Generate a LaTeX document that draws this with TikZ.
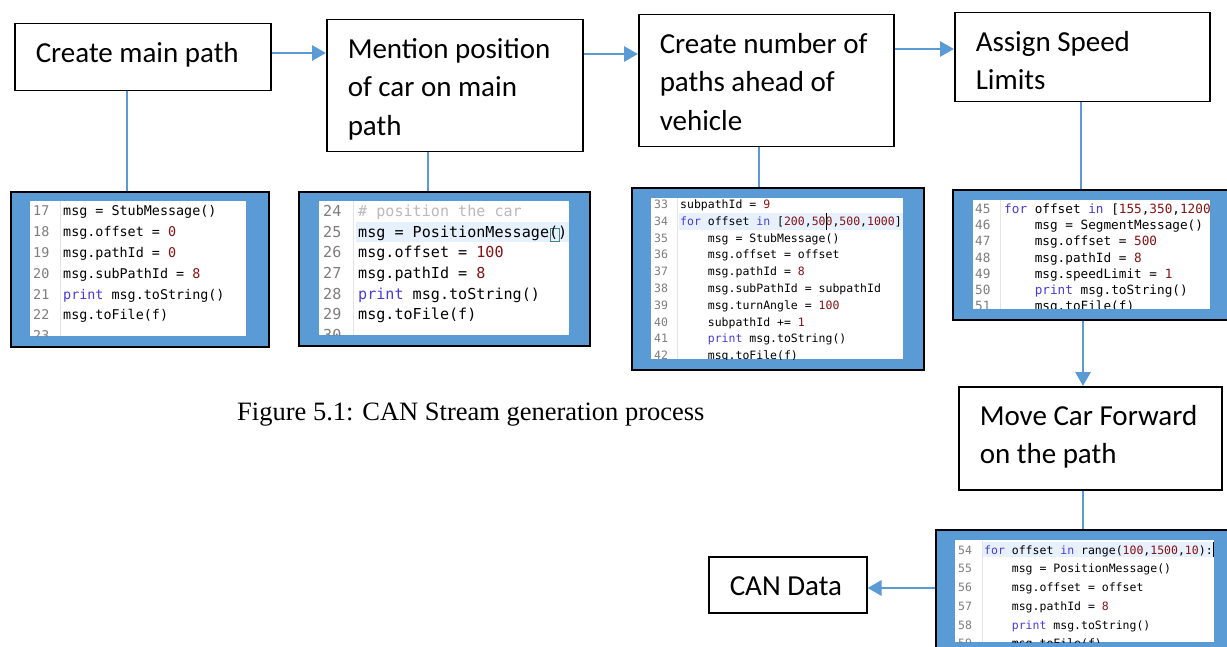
\documentclass[tikz,border=0pt]{standalone}
\usepackage{fontspec}
\setmainfont{Liberation Serif}
\setmonofont{DejaVu Sans Mono}
\newfontfamily\boxfont{Carlito}
\usetikzlibrary{arrows.meta}

\definecolor{flowblue}{RGB}{91,155,213}
\definecolor{numred}{RGB}{135,18,18}
\definecolor{kwblue}{RGB}{72,58,222}
\definecolor{lngrey}{RGB}{125,125,125}
\definecolor{cmgrey}{RGB}{185,185,185}
\definecolor{curline}{RGB}{231,241,253}
\definecolor{gutter}{RGB}{228,228,228}
\definecolor{matchbox}{RGB}{70,130,130}

% code listing helpers
\newcommand\lno[2]{\makebox[#1][l]{\textcolor{lngrey}{#2}}}
\newcommand\kw[1]{\textcolor{kwblue}{#1}}
\newcommand\nm[1]{\textcolor{numred}{#1}}
\newcommand\ind{\hphantom{xxxx}}
\newcommand\monospaces{\spaceskip=0.6021em\relax}
% text of a flow box: fixed size, first baseline 38.5pt below the top
\newcommand\boxtext[3]{\parbox[c][#2][t]{#1}{\rule{0pt}{38.5pt}#3}}

\tikzset{
  tbox/.style={draw=black, line width=1.5pt, fill=white, inner xsep=21pt,
    inner ysep=0pt, anchor=north west,
    font=\boxfont\fontsize{29}{38.5}\selectfont},
  cbox/.style={draw=black, line width=2.2pt, fill=flowblue,
    anchor=north west, inner sep=0pt},
  listing/.style 2 args={anchor=base west, inner sep=0pt, text width=300pt,
    align=left, font=\fontsize{#1}{#2}\selectfont\ttfamily},
  flow/.style={draw=flowblue, line width=2.9pt,
    -{Triangle[length=14pt,width=15pt]}},
  link/.style={draw=flowblue, line width=1.3pt},
  sep/.style={draw=gutter, line width=0.8pt},
}

\begin{document}
\begin{tikzpicture}[x=1pt, y=-1pt]
\clip (0,0) rectangle (1227,647);
\fill[white] (0,0) rectangle (1227,647);

% ---- flow boxes ----
\node[tbox] (b1) at (14,23) {\boxtext{214pt}{67pt}{\mbox{Create main path}}};
\node[tbox] (b2) at (326,19) {\boxtext{214pt}{132pt}{\mbox{Mention position}\\\mbox{of car on main}\\\mbox{path}}};
\node[tbox] (b3) at (638,14) {\boxtext{213pt}{132pt}{\mbox{Create number of}\\\mbox{paths ahead of}\\\mbox{vehicle}}};
\node[tbox] (b4) at (954,12) {\boxtext{213pt}{89pt}{\mbox{Assign Speed}\\\mbox{Limits}}};
\node[tbox] (b5) at (958,386) {\boxtext{221pt}{103pt}{\mbox{Move Car Forward}\\\mbox{on the path}}};
\node[tbox] (b6) at (708,556) {\boxtext{116pt}{56pt}{\mbox{CAN Data}}};

% ---- code boxes ----
\node[cbox, minimum width=258pt, minimum height=155pt] (c1) at (10,191) {};
\node[cbox, minimum width=291pt, minimum height=154pt] (c2) at (298,191) {};
\node[cbox, minimum width=292pt, minimum height=182pt] (c3) at (631,187) {};
\node[cbox, minimum width=290pt, minimum height=130pt] (c4) at (952,189) {};
\node[cbox, minimum width=300pt, minimum height=130pt] (c5) at (935,529) {};

% listing 1
\begin{scope}
  \clip (30,201) rectangle (246,336);
  \fill[white] (30,201) rectangle (246,336);
  \draw[sep] (60,201) -- (60,336);
  \node[listing={13.4}{20.8}] (l1) at (33,216) {\monospaces
    \lno{30pt}{17}msg = StubMessage()\\
    \lno{30pt}{18}msg.offset = \nm{0}\\
    \lno{30pt}{19}msg.pathId = \nm{0}\\
    \lno{30pt}{20}msg.subPathId = \nm{8}\\
    \lno{30pt}{21}\kw{print} msg.toString()\\
    \lno{30pt}{22}msg.toFile(f)\\
    \lno{30pt}{23}};
\end{scope}

% listing 2
\begin{scope}
  \clip (319,201) rectangle (569,335);
  \fill[white] (319,201) rectangle (569,335);
  \fill[curline] (356,222) rectangle (569,242);
  \draw[sep] (353,201) -- (353,335);
  \draw[matchbox, line width=0.8pt] (550.5,228) rectangle (559,241);
  \node[listing={15.1}{20.67}] (l2) at (323,216.5) {\monospaces
    \lno{35pt}{24}\textcolor{cmgrey}{\# position the car}\\
    \lno{35pt}{25}msg = PositionMessage()\\
    \lno{35pt}{26}msg.offset = \nm{100}\\
    \lno{35pt}{27}msg.pathId = \nm{8}\\
    \lno{35pt}{28}\kw{print} msg.toString()\\
    \lno{35pt}{29}msg.toFile(f)\\
    \lno{35pt}{30}};
\end{scope}

% listing 3
\begin{scope}
  \clip (651,198) rectangle (903,359);
  \fill[white] (651,198) rectangle (903,359);
  \fill[curline] (679,213) rectangle (903,230);
  \draw[sep] (677,198) -- (677,359);
  \node[listing={11.5}{16.8}] (l3) at (654,208.5) {\monospaces
    \lno{26pt}{33}subpathId = \nm{9}\\
    \lno{26pt}{34}\kw{for} offset \kw{in} [\nm{200},\nm{500},\nm{500},\nm{1000}]\\
    \lno{26pt}{35}\ind msg = StubMessage()\\
    \lno{26pt}{36}\ind msg.offset = offset\\
    \lno{26pt}{37}\ind msg.pathId = \nm{8}\\
    \lno{26pt}{38}\ind msg.subPathId = subpathId\\
    \lno{26pt}{39}\ind msg.turnAngle = \nm{100}\\
    \lno{26pt}{40}\ind subpathId += \nm{1}\\
    \lno{26pt}{41}\ind\kw{print} msg.toString()\\
    \lno{26pt}{42}\ind msg.toFile(f)};
  \draw[black, line width=0.9pt] (826,213) -- (826,230);
\end{scope}

% listing 4
\begin{scope}
  \clip (973,200) rectangle (1210,309);
  \fill[white] (973,200) rectangle (1210,309);
  \draw[sep] (1000,200) -- (1000,309);
  \node[listing={12.7}{16.2}] (l4) at (975,213.6) {\monospaces
    \lno{29pt}{45}\kw{for} offset \kw{in} [\nm{155},\nm{350},\nm{1200}\\
    \lno{29pt}{46}\ind msg = SegmentMessage()\\
    \lno{29pt}{47}\ind msg.offset = \nm{500}\\
    \lno{29pt}{48}\ind msg.pathId = \nm{8}\\
    \lno{29pt}{49}\ind msg.speedLimit = \nm{1}\\
    \lno{29pt}{50}\ind\kw{print} msg.toString()\\
    \lno{29pt}{51}\ind msg.toFile(f)};
\end{scope}

% listing 5
\begin{scope}
  \clip (955,540) rectangle (1214,642);
  \fill[white] (955,540) rectangle (1214,642);
  \fill[curline] (983,542) rectangle (1214,557);
  \draw[sep] (982,540) -- (982,642);
  \node[listing={11.5}{18.75}] (l5) at (958,554) {\monospaces
    \lno{26pt}{54}\kw{for} offset \kw{in} range(\nm{100},\nm{1500},\nm{10}):\\
    \lno{26pt}{55}\ind msg = PositionMessage()\\
    \lno{26pt}{56}\ind msg.offset = offset\\
    \lno{26pt}{57}\ind msg.pathId = \nm{8}\\
    \lno{26pt}{58}\ind\kw{print} msg.toString()\\
    \lno{26pt}{59}\ind msg.toFile(f)};
  \draw[black, line width=0.9pt] (1213,542) -- (1213,557);
\end{scope}

% ---- caption ----
\node[anchor=base west, inner sep=0pt, font=\fontsize{26.5}{30}\selectfont]
  (cap) at (237,420) {Figure 5.1: CAN Stream generation process};

% ---- connectors ----
\coordinate (x1) at (127,0);
\coordinate (x2) at (428,0);
\coordinate (x3) at (759,0);
\coordinate (x4) at (1081,0);
\coordinate (x5) at (1083,0);
\coordinate (y12) at (0,53);
\coordinate (y23) at (0,54);
\coordinate (y34) at (0,49);
\coordinate (y56) at (0,588);

\draw[flow] (b1.east |- y12) -- (b2.west |- y12);
\draw[flow] (b2.east |- y23) -- (b3.west |- y23);
\draw[flow] (b3.east |- y34) -- (b4.west |- y34);

\draw[link] (b1.south -| x1) -- (c1.north -| x1);
\draw[link] (b2.south -| x2) -- (c2.north -| x2);
\draw[link] (b3.south -| x3) -- (c3.north -| x3);
\draw[link] (b4.south -| x4) -- (c4.north -| x4);

\draw[flow] (c4.south -| x5) -- (b5.north -| x5);
\draw[link] (b5.south -| x5) -- (c5.north -| x5);
\draw[flow] (c5.west |- y56) -- (b6.east |- y56);
\end{tikzpicture}
\end{document}
